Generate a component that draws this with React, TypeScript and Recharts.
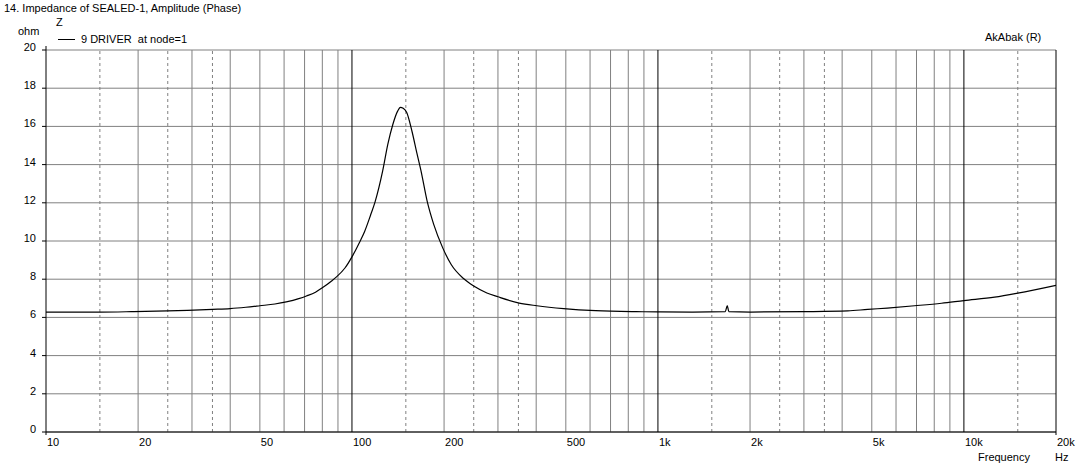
import { CartesianGrid, Line, LineChart, ReferenceLine, XAxis, YAxis } from "recharts";

const freqs = [
  10, 15, 19, 25, 29, 35, 40, 45, 50, 56, 61, 67, 71, 76, 80, 86, 89, 95, 100,
  106, 110, 115, 119, 126, 131, 136, 141, 144, 147, 151, 157, 163, 168, 176, 185,
  198, 211, 232, 250, 276, 300, 352, 402, 492, 626, 850, 1000, 1300, 1660, 1685,
  1705, 2000, 3000, 4170, 4850, 5620, 6900, 8450, 10000, 12600, 15000, 20000,
];
const impedance = [
  6.28, 6.28, 6.3, 6.34, 6.37, 6.42, 6.46, 6.53, 6.61, 6.7, 6.81, 6.98, 7.12,
  7.32, 7.55, 7.92, 8.12, 8.6, 9.17, 9.95, 10.5, 11.35, 12.05, 13.67, 15.07, 16.1,
  16.8, 17.0, 16.95, 16.73, 15.76, 14.6, 13.7, 12.1, 10.87, 9.64, 8.77, 8.02,
  7.64, 7.28, 7.08, 6.75, 6.61, 6.46, 6.35, 6.3, 6.29, 6.28, 6.3, 6.62, 6.3, 6.28,
  6.3, 6.34, 6.42, 6.49, 6.61, 6.74, 6.88, 7.06, 7.27, 7.68,
];

const yTicks = [0, 2, 4, 6, 8, 10, 12, 14, 16, 18, 20];
const xTicks = [10, 20, 50, 100, 200, 500, 1000, 2000, 5000, 10000, 20000];
const xTickLabels = ["10", "20", "50", "100", "200", "500", "1k", "2k", "5k", "10k", "20k"];
const decadeLines = [100, 1000, 10000, 20000];
const minorLines = [
  20, 30, 40, 50, 60, 70, 80, 90, 200, 300, 400, 500, 600, 700, 800, 900, 2000,
  3000, 4000, 5000, 6000, 7000, 8000, 9000,
];
const dashedLines = [15, 25, 35, 150, 250, 350, 1500, 2500, 3500, 15000];

const data = freqs.map((f, i) => ({ f, z: impedance[i] }));

const FONT = "'Liberation Sans', Arial, sans-serif";
const GRAY = "#808080";

const XTick = ({ x, y, payload }: any) => {
  const i = xTicks.indexOf(payload.value);
  const edge = i === 0 || i === xTicks.length - 1;
  return (
    <g>
      {edge && <line x1={x} x2={x} y1={y} y2={y + 3} stroke="#000" />}
      <text x={x + 1} y={y + 14} fontSize={11} fontFamily={FONT} fill="#000" textAnchor="start">
        {xTickLabels[i]}
      </text>
    </g>
  );
};

const YTick = ({ x, y, payload }: any) => (
  <g>
    <line x1={x - 4} x2={x} y1={y} y2={y} stroke="#000" />
    {payload.value === 20 && <line x1={x} x2={x} y1={y} y2={y - 4} stroke="#000" />}
    <text x={x - 10} y={y - 3} fontSize={11} fontFamily={FONT} fill="#000" textAnchor="end" dominantBaseline="central">
      {payload.value}
    </text>
  </g>
);

const label = (left: number, top: number): React.CSSProperties => ({
  position: "absolute",
  left,
  top,
  fontSize: 11,
  lineHeight: "12px",
  fontFamily: FONT,
  color: "#000",
  whiteSpace: "pre",
});

export default function App() {
  return (
    <div style={{ position: "absolute", left: 0, top: 0, width: 1082, height: 469, background: "#fff" }}>
      <LineChart
        width={1082}
        height={469}
        data={data}
        margin={{ top: 50, right: 26, bottom: 0, left: 0 }}
      >
        <CartesianGrid vertical={false} stroke={GRAY} strokeDasharray="" />
        {minorLines.map((v) => (
          <ReferenceLine key={"m" + v} x={v} stroke={GRAY} strokeWidth={1} />
        ))}
        {dashedLines.map((v) => (
          <ReferenceLine key={"d" + v} x={v} stroke={GRAY} strokeDasharray="3 3" strokeWidth={1} />
        ))}
        {decadeLines.map((v) => (
          <ReferenceLine key={"k" + v} x={v} stroke="#000" strokeWidth={1} />
        ))}
        <XAxis
          dataKey="f"
          type="number"
          scale="log"
          domain={[10, 20000]}
          ticks={xTicks}
          allowDataOverflow
          height={37}
          tickSize={0}
          tickMargin={0}
          tickLine={false}
          axisLine={{ stroke: "#000" }}
          tick={<XTick />}
          interval={0}
        />
        <YAxis
          type="number"
          domain={[0, 20]}
          ticks={yTicks}
          width={46}
          tickSize={0}
          tickMargin={0}
          tickLine={false}
          axisLine={{ stroke: "#000" }}
          tick={<YTick />}
          interval={0}
        />
        <Line
          dataKey="z"
          type="monotone"
          stroke="#000"
          strokeWidth={1.2}
          dot={false}
          isAnimationActive={false}
        />
      </LineChart>
      <div style={label(4, 2)}>14. Impedance of SEALED-1, Amplitude (Phase)</div>
      <div style={label(56, 16)}>Z</div>
      <div style={label(18, 25)}>ohm</div>
      <div style={{ position: "absolute", left: 58, top: 39, width: 17, borderTop: "1px solid #000" }} />
      <div style={label(81, 33)}>9 DRIVER  at node=1</div>
      <div style={label(985, 31)}>AkAbak (R)</div>
      <div style={label(978, 451)}>Frequency</div>
      <div style={label(1055, 451)}>Hz</div>
    </div>
  );
}
